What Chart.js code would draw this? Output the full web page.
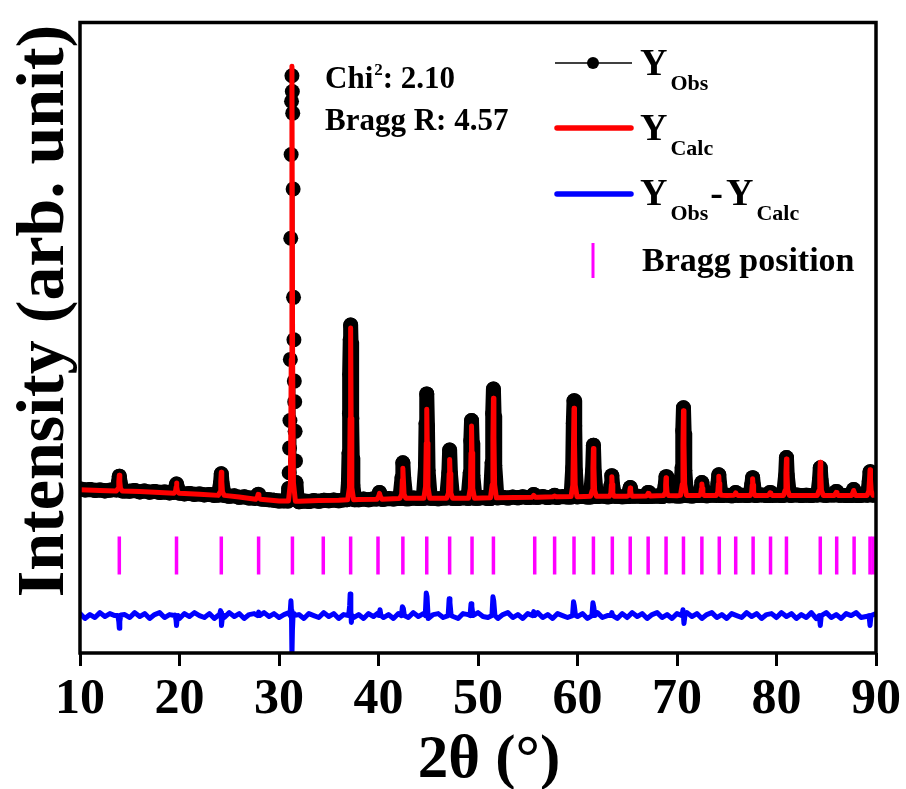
<!DOCTYPE html>
<html><head><meta charset="utf-8">
<script src="https://cdn.jsdelivr.net/npm/chart.js@4.4.1/dist/chart.umd.min.js"></script>
<style>html,body{margin:0;padding:0;background:#fff;}canvas{display:block;}</style>
</head><body>
<canvas id="c" width="906" height="789"></canvas>
<script>
// ---------------- data ----------------
const X_TICKS = [10, 20, 30, 40, 50, 60, 70, 80, 90];
const BG_START = 10, BG_STEP = 0.5;   // 2θ sampling of the background arrays

// observed background (10 → 90°, every 0.5°)
const OBS_BG = [
  370,350,360,340,350,330,345,360,340,330,
  325,340,310,330,305,320,300,310,290,300,
  285,270,280,260,270,250,260,240,245,240,
  220,230,200,210,185,190,175,160,150,140,
  125,130,120,115,110,125,115,135,120,140,
  130,145,130,150,140,150,150,165,150,170,
  165,160,175,165,180,175,170,185,175,180,
  180,180,170,185,175,180,175,190,180,185,
  180,195,175,190,190,200,185,205,190,210,
  195,200,200,215,195,210,200,215,205,210,
  210,220,205,215,215,225,210,220,220,210,
  215,220,225,215,230,220,225,215,230,235,
  225,230,235,225,240,235,230,245,235,235,
  245,230,240,245,235,240,240,250,235,240,
  245,235,240,240,250,235,245,235,250,240,
  240,250,245,245,235,240,240,240,250,245,
  250
];
// observed reflections [2θ, intensity]
const OBS_PEAKS = [
  [[13.65,350],[13.87,500],[13.95,630],[14.03,500],[14.25,330]],
  [[19.4,300],[19.62,400],[19.7,470],[19.78,400],[20.0,285]],
  [[23.9,245],[24.12,480],[24.2,680],[24.28,480],[24.5,240]],
  [[27.6,180],[27.82,230],[27.9,260],[27.98,230],[28.2,165]],
  [[30.9,125],[30.98,380],[31.02,700],[31.06,1200],[31.1,1760],[31.14,3000],[31.18,5460],[31.22,7160],[31.26,8240],[31.3,8760],[31.34,8440],[31.38,8000],[31.42,6460],[31.46,4260],[31.5,3400],[31.54,2560],[31.58,2140],[31.62,1540],[31.66,940],[31.7,500],[31.8,200],[32.0,110]],
  [[36.85,150],[36.98,500],[37.04,1100],[37.08,1900],[37.12,2700],[37.16,3400],[37.2,3700],[37.24,3350],[37.28,2600],[37.32,1800],[37.36,1000],[37.42,450],[37.6,150]],
  [[39.8,165],[40.02,250],[40.1,300],[40.18,250],[40.4,160]],
  [[42.15,175],[42.37,600],[42.45,900],[42.53,600],[42.75,170]],
  [[44.55,180],[44.72,800],[44.78,1700],[44.85,2300],[44.92,1650],[44.98,750],[45.2,180]],
  [[46.85,185],[47.07,700],[47.15,1160],[47.23,680],[47.45,180]],
  [[49.05,180],[49.22,700],[49.28,1350],[49.35,1760],[49.42,1300],[49.48,650],[49.7,180]],
  [[51.25,175],[51.42,900],[51.48,1900],[51.55,2400],[51.62,1850],[51.68,850],[51.9,190]],
  [[55.35,200],[55.52,240],[55.6,260],[55.68,240],[55.85,200]],
  [[57.5,210],[57.62,230],[57.7,240],[57.78,230],[57.9,200]],
  [[59.35,205],[59.52,800],[59.58,1700],[59.65,2160],[59.72,1650],[59.78,750],[59.95,210]],
  [[61.3,205],[61.52,750],[61.6,1260],[61.68,720],[61.9,215]],
  [[63.15,210],[63.37,450],[63.45,640],[63.53,440],[63.75,220]],
  [[65.05,215],[65.22,330],[65.3,400],[65.38,320],[65.55,220]],
  [[66.9,215],[67.02,270],[67.1,300],[67.18,265],[67.3,220]],
  [[68.6,225],[68.82,450],[68.9,620],[68.98,440],[69.2,230]],
  [[70.35,225],[70.52,800],[70.58,1550],[70.65,2020],[70.72,1500],[70.78,750],[70.95,235]],
  [[72.25,240],[72.42,400],[72.5,500],[72.58,390],[72.75,235]],
  [[73.95,240],[74.12,480],[74.2,660],[74.28,470],[74.45,235]],
  [[75.7,240],[75.82,280],[75.9,300],[75.98,280],[76.15,240]],
  [[77.35,245],[77.52,460],[77.6,600],[77.68,450],[77.85,240]],
  [[79.15,235],[79.27,280],[79.35,300],[79.43,280],[79.6,240]],
  [[80.7,240],[80.92,650],[81.0,1010],[81.08,640],[81.3,245]],
  [[84.15,250],[84.32,550],[84.4,800],[84.48,540],[84.7,245]],
  [[85.8,250],[85.92,300],[86.0,320],[86.08,300],[86.25,245]],
  [[87.55,240],[87.67,310],[87.75,360],[87.83,300],[88.0,240]],
  [[89.15,245],[89.32,520],[89.4,720],[89.48,510],[89.7,245]]
];

// calculated background [2θ, intensity]
const CALC_BG = [[10,355],[12,340],[14,330],[16,318],[18,300],[20,282],[22,262],[24,242],[26,205],[28,165],[30,125],[32,120],[34,135],[36,142],[38,155],[40,162],[42,175],[44,180],[48,182],[52,192],[56,202],[60,212],[65,220],[70,232],[75,238],[80,240],[90,242]];
// calculated reflections [2θ, intensity]
const CALC_PEAKS = [
  [[13.65,330],[13.83,380],[13.9,520],[13.95,650],[14.0,520],[14.07,380],[14.25,330]],
  [[19.45,285],[19.6,320],[19.66,410],[19.7,490],[19.74,410],[19.8,320],[19.95,285]],
  [[23.9,240],[24.08,310],[24.15,520],[24.2,710],[24.25,520],[24.32,310],[24.5,240]],
  [[27.65,160],[27.82,200],[27.9,260],[27.98,200],[28.15,160]],
  [[30.95,125],[31.15,500],[31.23,3000],[31.3,8950],[31.37,3000],[31.45,500],[31.65,120]],
  [[36.9,150],[37.08,400],[37.15,1800],[37.2,3640],[37.25,1800],[37.32,400],[37.5,150]],
  [[39.85,160],[40.02,220],[40.1,280],[40.18,220],[40.35,160]],
  [[42.15,180],[42.33,260],[42.4,560],[42.45,790],[42.5,560],[42.57,260],[42.75,180]],
  [[44.55,180],[44.73,420],[44.8,1300],[44.85,1990],[44.9,1300],[44.97,420],[45.15,180]],
  [[46.85,180],[47.03,290],[47.1,680],[47.15,970],[47.2,680],[47.27,290],[47.45,180]],
  [[49.05,180],[49.23,380],[49.3,1100],[49.35,1650],[49.4,1100],[49.47,380],[49.65,180]],
  [[51.25,190],[51.43,460],[51.5,1420],[51.55,2210],[51.6,1420],[51.67,460],[51.85,190]],
  [[55.4,200],[55.52,220],[55.6,240],[55.68,220],[55.8,200]],
  [[57.5,210],[57.62,218],[57.7,225],[57.78,218],[57.9,210]],
  [[59.35,215],[59.53,450],[59.6,1300],[59.65,2010],[59.7,1300],[59.77,450],[59.95,215]],
  [[61.3,220],[61.48,340],[61.55,800],[61.6,1190],[61.65,800],[61.72,340],[61.9,220]],
  [[63.2,220],[63.35,280],[63.41,460],[63.45,620],[63.49,460],[63.55,280],[63.7,220]],
  [[65.05,220],[65.2,250],[65.26,330],[65.3,390],[65.34,330],[65.4,250],[65.55,220]],
  [[66.9,225],[67.02,250],[67.1,280],[67.18,250],[67.3,228]],
  [[68.65,235],[68.8,290],[68.86,460],[68.9,600],[68.94,460],[69.0,290],[69.15,235]],
  [[70.35,240],[70.53,470],[70.6,1280],[70.65,1960],[70.7,1280],[70.77,470],[70.95,240]],
  [[72.25,240],[72.4,280],[72.46,380],[72.5,470],[72.54,380],[72.6,280],[72.75,240]],
  [[73.95,240],[74.1,300],[74.16,480],[74.2,630],[74.24,480],[74.3,300],[74.45,240]],
  [[75.7,240],[75.82,265],[75.9,290],[75.98,265],[76.1,240]],
  [[77.35,240],[77.5,290],[77.56,450],[77.6,580],[77.64,450],[77.7,290],[77.85,240]],
  [[79.15,240],[79.27,265],[79.35,290],[79.43,265],[79.55,240]],
  [[80.7,240],[80.88,350],[80.95,700],[81.0,980],[81.05,700],[81.12,350],[81.3,240]],
  [[84.1,240],[84.28,340],[84.35,660],[84.4,910],[84.45,660],[84.52,340],[84.7,240]],
  [[85.8,240],[85.92,270],[86.0,300],[86.08,270],[86.2,240]],
  [[87.55,240],[87.67,290],[87.75,340],[87.83,290],[87.95,240]],
  [[89.1,240],[89.28,330],[89.35,560],[89.4,760],[89.45,560],[89.52,330],[89.7,240]]
];

// difference Yobs - Ycalc (10 → 90°, every 0.5°)
const DIFF_BG = [
  40,-60,20,-40,60,-20,40,0,-80,20,
  -40,60,-20,40,-60,20,60,-40,20,0,
  -60,40,-20,60,0,-40,40,-60,20,-40,
  60,-20,40,-60,20,40,-40,60,-20,40,
  -40,20,60,-40,20,-60,40,0,-40,60,
  -20,40,-60,20,60,-40,20,-60,40,-20,
  60,-40,20,-60,40,0,-40,60,-20,40,
  -60,20,40,-40,60,-20,-60,40,20,-40,
  60,-20,-40,40,-60,20,60,-40,20,-60,
  40,-20,60,-40,20,-60,40,0,-40,60,
  -20,40,-60,20,60,-40,0,60,-60,40,
  -40,60,-20,40,-60,20,60,-40,20,-60,
  40,-80,60,-20,40,-60,20,60,-40,20,
  -60,40,0,-40,60,-20,40,-60,20,40,
  -40,60,-20,40,-60,20,-40,60,-60,-20,
  60,-40,20,-60,40,0,60,-40,-20,-60,
  40
];
const DIFF_PEAKS = [
  [[13.8,0],[13.9,-120],[13.95,-260],[14.0,-120],[14.1,10]],
  [[19.55,10],[19.65,-90],[19.7,-200],[19.75,-90],[19.85,0]],
  [[24.02,0],[24.12,100],[24.18,60],[24.22,-200],[24.3,-60],[24.4,10]],
  [[27.85,0],[27.95,70],[28.05,0]],
  [[31.1,0],[31.2,300],[31.25,100],[31.3,-820],[31.35,-300],[31.42,40],[31.5,0]],
  [[37.0,0],[37.1,200],[37.15,440],[37.22,100],[37.27,-140],[37.35,0]],
  [[40.05,0],[40.15,120],[40.25,0]],
  [[42.3,0],[42.4,180],[42.5,140],[42.6,0]],
  [[44.7,0],[44.8,460],[44.88,380],[44.98,0]],
  [[47.0,0],[47.1,340],[47.18,260],[47.3,0]],
  [[49.2,0],[49.3,240],[49.38,180],[49.5,0]],
  [[51.4,0],[51.5,380],[51.58,300],[51.7,0]],
  [[55.5,0],[55.6,80],[55.7,0]],
  [[59.5,0],[59.6,280],[59.68,200],[59.8,0]],
  [[61.45,0],[61.55,260],[61.63,180],[61.75,0]],
  [[63.35,0],[63.45,60],[63.55,0]],
  [[70.5,0],[70.6,120],[70.7,-160],[70.8,0]],
  [[84.3,0],[84.4,-200],[84.5,0]],
  [[89.3,0],[89.4,-200],[89.5,0]]
];

// Bragg reflection positions (2θ)
const BRAGG_POS = [13.95,19.7,24.2,27.95,31.35,34.45,37.2,39.95,42.45,44.85,47.15,49.4,51.55,55.7,57.7,59.65,61.6,63.5,65.3,67.1,68.9,70.65,72.5,74.25,75.9,77.65,79.4,81.0,84.4,86.05,87.8,89.4,89.7];

const CHI2 = '2.10';
const BRAGG_R = '4.57';

// ---------------- layout constants (not data) ----------------
const DIFF_OFFSET = -2200;   // vertical offset of the difference curve
const BRAGG_LEVEL = -980;    // vertical level of the Bragg tick row
const DOT_ZONE = [30.97, 31.72];
const Y_MIN = -2960, Y_MAX = 9840;
const SERIF = '"Liberation Serif", "Times New Roman", serif';

// ---------------- build tables ----------------
function mergeSeries(bgPts, peaks, offset) {
  const ranges = peaks.map(p => [p[0][0], p[p.length - 1][0]]);
  const pts = [];
  bgPts.forEach(([x, y]) => {
    if (!ranges.some(r => x >= r[0] && x <= r[1])) pts.push({x, y: y + offset});
  });
  peaks.forEach(p => p.forEach(([x, y]) => pts.push({x, y: y + offset})));
  pts.sort((a, b) => a.x - b.x);
  return pts;
}
const gridPairs = vals => vals.map((v, i) => [+(BG_START + i * BG_STEP).toFixed(2), v]);

const obsData = mergeSeries(gridPairs(OBS_BG), OBS_PEAKS, 0);
const calcData = mergeSeries(CALC_BG, CALC_PEAKS, 0);
const diffData = mergeSeries(gridPairs(DIFF_BG), DIFF_PEAKS, DIFF_OFFSET);
const braggData = BRAGG_POS.map(x => ({x, y: BRAGG_LEVEL}));

// ---------------- overlay: frame, titles, legend, annotation ----------------
const overlay = {
  id: 'overlay',
  afterDraw(chart) {
    const ctx = chart.ctx, a = chart.chartArea;
    ctx.save();
    ctx.strokeStyle = '#000';
    ctx.lineWidth = 3.5;
    ctx.strokeRect(a.left, a.top, a.right - a.left, a.bottom - a.top);

    ctx.fillStyle = '#000';
    ctx.textBaseline = 'alphabetic';
    // x title
    ctx.font = 'bold 61px ' + SERIF;
    ctx.textAlign = 'center';
    ctx.fillText('2θ (°)', 489, 777);
    // y title
    ctx.save();
    ctx.translate(63, 311);
    ctx.rotate(-Math.PI / 2);
    ctx.font = 'bold 68px ' + SERIF;
    ctx.fillText('Intensity (arb. unit)', 0, 0);
    ctx.restore();

    ctx.textAlign = 'left';
    // annotation
    let x = 325;
    ctx.font = 'bold 31px ' + SERIF;
    ctx.fillText('Chi', x, 88); x += ctx.measureText('Chi').width + 1;
    ctx.font = 'bold 17px ' + SERIF;
    ctx.fillText('2', x, 75); x += ctx.measureText('2').width;
    ctx.font = 'bold 31px ' + SERIF;
    ctx.fillText(': ' + CHI2, x, 88);
    ctx.fillText('Bragg R: ' + BRAGG_R, 325, 130);

    // legend
    const YF = 'bold 38px ' + SERIF, SF = 'bold 22px ' + SERIF;
    function yLabel(parts, x0, base) {
      let xx = x0;
      parts.forEach(p => {
        ctx.font = p.sub ? SF : YF;
        ctx.fillText(p.t, xx, p.sub ? base + 15 : base);
        xx += ctx.measureText(p.t).width + (p.sub ? 2 : 3);
      });
    }
    // Y_Obs
    ctx.strokeStyle = '#000'; ctx.lineWidth = 1.5;
    ctx.beginPath(); ctx.moveTo(555, 63); ctx.lineTo(632, 63); ctx.stroke();
    ctx.beginPath(); ctx.arc(593, 63, 6, 0, Math.PI * 2); ctx.fill();
    yLabel([{t: 'Y'}, {t: 'Obs', sub: true}], 640, 75);
    // Y_Calc
    ctx.lineCap = 'round';
    ctx.strokeStyle = '#ff0000'; ctx.lineWidth = 5.5;
    ctx.beginPath(); ctx.moveTo(557, 128); ctx.lineTo(631, 128); ctx.stroke();
    yLabel([{t: 'Y'}, {t: 'Calc', sub: true}], 640, 140);
    // Y_Obs - Y_Calc
    ctx.strokeStyle = '#0000ff';
    ctx.beginPath(); ctx.moveTo(557, 194); ctx.lineTo(631, 194); ctx.stroke();
    yLabel([{t: 'Y'}, {t: 'Obs', sub: true}, {t: '-'}, {t: 'Y'}, {t: 'Calc', sub: true}], 640, 205);
    // Bragg position
    ctx.lineCap = 'butt';
    ctx.strokeStyle = '#ff00ff'; ctx.lineWidth = 3;
    ctx.beginPath(); ctx.moveTo(593, 243); ctx.lineTo(593, 278); ctx.stroke();
    ctx.font = 'bold 34px ' + SERIF;
    ctx.fillText('Bragg position', 642, 271);
    ctx.restore();
  }
};

// ---------------- chart ----------------
new Chart(document.getElementById('c'), {
  type: 'line',
  data: {
    datasets: [
      {
        label: 'Y_Obs', data: obsData, order: 4,
        borderColor: '#000', backgroundColor: '#000', borderWidth: 15,
        borderJoinStyle: 'round', borderCapStyle: 'round',
        pointRadius: 7.5, pointBackgroundColor: '#000', pointBorderWidth: 0,
        segment: {
          borderWidth: c => {
            const a = obsData[c.p0DataIndex].x, b = obsData[c.p1DataIndex].x;
            return (a >= DOT_ZONE[0] && b <= DOT_ZONE[1]) ? 1.5 : undefined;
          }
        }
      },
      {
        label: 'Y_Calc', data: calcData, order: 3,
        borderColor: '#ff0000', borderWidth: 5, pointRadius: 0,
        borderJoinStyle: 'round', borderCapStyle: 'round'
      },
      {
        label: 'Y_Obs-Y_Calc', data: diffData, order: 2,
        borderColor: '#0000ff', borderWidth: 5, pointRadius: 0,
        borderJoinStyle: 'round', borderCapStyle: 'round'
      },
      {
        type: 'scatter', label: 'Bragg position', data: braggData, order: 1,
        showLine: false, pointStyle: 'line', pointRotation: 90, rotation: 90,
        pointRadius: 19, radius: 19, pointBorderColor: '#ff00ff', borderColor: '#ff00ff',
        pointBorderWidth: 3.5, borderWidth: 3.5, pointBackgroundColor: '#ff00ff'
      }
    ]
  },
  options: {
    responsive: false, animation: false, devicePixelRatio: 1,
    events: [],
    layout: {padding: {left: 80, right: 30, top: 13, bottom: 0}},
    plugins: {legend: {display: false}, tooltip: {enabled: false}},
    elements: {line: {tension: 0}},
    scales: {
      x: {
        type: 'linear', min: 10, max: 90,
        afterFit: s => { s.height = 136; },
        afterBuildTicks: s => { s.ticks = X_TICKS.map(v => ({value: v})); },
        ticks: {
          font: {family: SERIF, size: 50, weight: 'bold'}, color: '#000', padding: 4,
          maxRotation: 0, autoSkip: false
        },
        grid: {drawOnChartArea: false, drawTicks: true, tickLength: 13, tickWidth: 3, tickColor: '#000'},
        border: {display: false}
      },
      y: {display: false, min: Y_MIN, max: Y_MAX}
    }
  },
  plugins: [overlay]
});
</script>
</body></html>
